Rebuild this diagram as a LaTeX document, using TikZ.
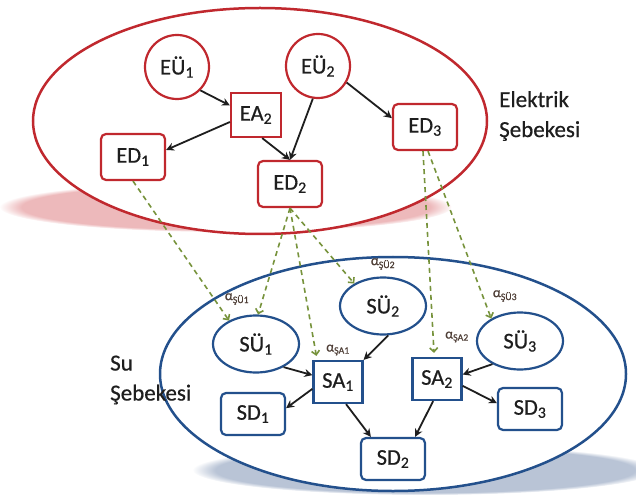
\documentclass[tikz,border=0pt]{standalone}
\usepackage{fontspec}
\setmainfont{Carlito}[FakeBold=0.6]
\usetikzlibrary{arrows.meta,fadings,shapes.geometric}
\definecolor{eRed}{HTML}{C0282E}
\definecolor{wBlue}{HTML}{23508C}
\definecolor{dGreen}{HTML}{77933C}
\definecolor{txt}{HTML}{1E1E1E}
\definecolor{alab}{HTML}{4E3E36}
\definecolor{rShadow}{HTML}{EDB9BB}
\definecolor{bShadow}{HTML}{B9C4D6}
\newcommand\sbs[1]{\textsubscript{#1}}
\begin{document}
\begin{tikzpicture}[x=1pt,y=-1pt,
  font=\fontsize{22.5}{25}\selectfont,
  every node/.style={text=txt},
  ecirc/.style={circle, draw=eRed, line width=2.2pt, minimum size=64pt, inner sep=0pt, fill=white},
  erbox/.style={rectangle, rounded corners=5pt, draw=eRed, line width=2.2pt, minimum width=64pt, minimum height=46pt, inner sep=0pt, fill=white},
  esbox/.style={rectangle, draw=eRed, line width=2.2pt, minimum width=50pt, minimum height=44pt, inner sep=0pt, fill=white},
  wellip/.style={ellipse, draw=wBlue, line width=2.2pt, minimum width=86pt, minimum height=57pt, inner sep=0pt, fill=white},
  wsbox/.style={rectangle, draw=wBlue, line width=2.2pt, minimum width=49pt, minimum height=42pt, inner sep=0pt, fill=white},
  wrbox/.style={rectangle, rounded corners=5pt, draw=wBlue, line width=2.2pt, minimum width=64pt, minimum height=42pt, inner sep=0pt, fill=white},
  flow/.style={draw=txt, line width=1.8pt, -{Stealth[length=8pt,width=8pt]}},
  couple/.style={draw=dGreen, line width=1.6pt, dash pattern=on 5pt off 4pt, -{Straight Barb[length=4pt,width=8pt]}},
  alpha/.style={font=\fontsize{14}{15}\selectfont, text=alab, inner sep=0pt},
  netlabel/.style={align=left, anchor=west, font=\fontsize{23}{30}\selectfont, inner sep=0pt}
]
\useasboundingbox (0,0) rectangle (636,502);

% shadows
\fill[rShadow, path fading=circle with fuzzy edge 10 percent] (226,207) ellipse [x radius=226, y radius=25];
\fill[bShadow, path fading=circle with fuzzy edge 10 percent] (425,470) ellipse [x radius=232, y radius=25];

% network outlines
\draw[eRed, line width=2.5pt, fill=white] (260,121) ellipse [x radius=227, y radius=113];
\draw[wBlue, line width=2.5pt, fill=white] (393,374) ellipse [x radius=233, y radius=117];

% electricity network
\node[ecirc] (EU1) at (177,67) {EÜ\sbs{1}};
\node[ecirc] (EU2) at (318,66) {EÜ\sbs{2}};
\node[esbox] (EA2) at (256,115) {EA\sbs{2}};
\node[erbox] (ED1) at (133,157) {ED\sbs{1}};
\node[erbox] (ED2) at (290,184) {ED\sbs{2}};
\node[erbox] (ED3) at (425,127) {ED\sbs{3}};
\node[netlabel] (elab) at (499,116) {Elektrik\\Şebekesi};

% water network
\node[wellip] (SU1) at (256,344) {SÜ\sbs{1}};
\node[wellip] (SU2) at (383,306) {SÜ\sbs{2}};
\node[wellip] (SU3) at (520,341) {SÜ\sbs{3}};
\node[wsbox] (SA1) at (338,382) {SA\sbs{1}};
\node[wsbox] (SA2) at (437,379) {SA\sbs{2}};
\node[wrbox] (SD1) at (253,414) {SD\sbs{1}};
\node[wrbox] (SD2) at (393,459) {SD\sbs{2}};
\node[wrbox] (SD3) at (530,409) {SD\sbs{3}};
\node[netlabel] (slab) at (110,380) {Su\\Şebekesi};

% alpha labels
\node[alpha] (aSU1) at (237,299) {α\sbs{ŞÜ1}};
\node[alpha] (aSU2) at (383,264) {α\sbs{ŞÜ2}};
\node[alpha] (aSA1) at (338,350) {α\sbs{ŞA1}};
\node[alpha] (aSA2) at (457,337) {α\sbs{ŞA2}};
\node[alpha] (aSU3) at (505,296) {α\sbs{ŞÜ3}};

% electricity flows
\draw[flow] (EU1.-45) -- (EA2.160);
\draw[flow] (EA2.195) -- (ED1.12);
\draw[flow] (EA2.-75) -- (ED2.north);
\draw[flow] (EU2.-99) -- (ED2.north);
\draw[flow] (EU2.-30) -- (ED3.165);

% water flows
\draw[flow] (SU2.-80) -- (SA1.north east);
\draw[flow] (SU1.-40) -- (SA1.165);
\draw[flow] (SA1.195) -- (SD1.10);
\draw[flow] (SA1.-70) -- (SD2.135);
\draw[flow] (SA2.-100) -- (SD2.45);
\draw[flow] (SU3.-140) -- (SA2.10);
\draw[flow] (SA2.-15) -- (SD3.170);

% interdependencies
\draw[couple] (ED1.south) -- (SU1.139);
\draw[couple] (ED2.south) -- (SU1.86);
\draw[couple] (ED2.south) -- ([xshift=4pt,yshift=4pt]SA1.north west);
\draw[couple] (ED2.south) -- (SU2.142);
\draw[couple] ([xshift=-2pt]ED3.south) -- ([xshift=-3pt,yshift=4pt]SA2.north);
\draw[couple] ([xshift=3pt]ED3.south) -- (SU3.142);
\end{tikzpicture}
\end{document}
